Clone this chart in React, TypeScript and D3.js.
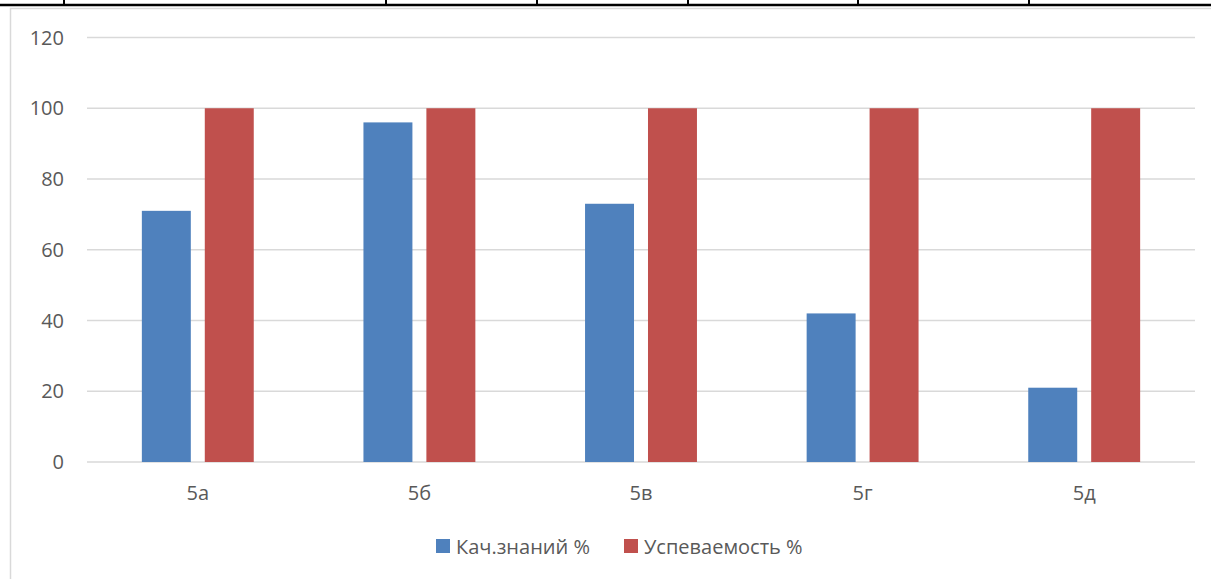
import { useEffect, useRef } from 'react';
import * as d3 from 'd3';

const categories = ['5а', '5б', '5в', '5г', '5д'];
const seriesNames = ['Кач.знаний %', 'Успеваемость %'];
const quality = [71, 96, 73, 42, 21];
const progress = [100, 100, 100, 100, 100];
const yTicks = [0, 20, 40, 60, 80, 100, 120];
const colors = ['#4f81bd', '#c0504d'];
const tableCols = [64, 386, 537, 688, 858, 1029];

export default function App() {
  const svgRef = useRef<SVGSVGElement>(null);

  useEffect(() => {
    if (!svgRef.current) return;
    const svg = d3.select(svgRef.current);
    svg.selectAll('*').remove();

    const width = 1211;
    const height = 579;
    const font = '"Open Sans", "Noto Sans", sans-serif';
    const fontSize = 20;
    const textColor = '#595959';

    // Table border remnants above the chart
    svg.append('line')
      .attr('x1', 0).attr('x2', width)
      .attr('y1', 5).attr('y2', 5)
      .attr('stroke', '#000').attr('stroke-width', 2.5);
    svg.selectAll('.tcol')
      .data(tableCols)
      .enter()
      .append('line')
      .attr('x1', d => d).attr('x2', d => d)
      .attr('y1', 0).attr('y2', 6)
      .attr('stroke', '#000').attr('stroke-width', 2);

    // Chart frame
    svg.append('rect')
      .attr('x', 10.5).attr('y', 8.5)
      .attr('width', width + 20).attr('height', height)
      .attr('fill', '#fff')
      .attr('stroke', '#d9d9d9').attr('stroke-width', 1.5);

    const plot = { left: 87, right: 1195, top: 37.5, bottom: 462 };

    const x0 = d3.scaleBand<string>()
      .domain(categories)
      .range([plot.left, plot.right])
      .paddingInner(0.495)
      .paddingOuter(0.2475);

    const x1 = d3.scaleBand<number>()
      .domain([0, 1])
      .range([0, x0.bandwidth()])
      .paddingInner(0.222)
      .paddingOuter(0);

    const y = d3.scaleLinear()
      .domain([0, 120])
      .range([plot.bottom, plot.top]);

    // Gridlines
    svg.selectAll('.grid')
      .data(yTicks)
      .enter()
      .append('line')
      .attr('x1', plot.left).attr('x2', plot.right)
      .attr('y1', d => y(d)).attr('y2', d => y(d))
      .attr('stroke', '#d9d9d9').attr('stroke-width', 1.3);

    // Y tick labels
    svg.selectAll('.ytick')
      .data(yTicks)
      .enter()
      .append('text')
      .attr('x', 64)
      .attr('y', d => y(d))
      .attr('dy', '0.36em')
      .attr('text-anchor', 'end')
      .attr('font-family', font)
      .attr('font-size', fontSize)
      .attr('fill', textColor)
      .text(d => d);

    // Bars
    const series = [quality, progress];
    series.forEach((vals, si) => {
      svg.selectAll(`.bar-${si}`)
        .data(vals)
        .enter()
        .append('rect')
        .attr('x', (_, i) => (x0(categories[i]) ?? 0) + (x1(si) ?? 0))
        .attr('y', d => y(d))
        .attr('width', x1.bandwidth())
        .attr('height', d => y(0) - y(d))
        .attr('fill', colors[si]);
    });

    // Category labels
    svg.selectAll('.xlabel')
      .data(categories)
      .enter()
      .append('text')
      .attr('x', d => (x0(d) ?? 0) + x0.bandwidth() / 2)
      .attr('y', 500)
      .attr('text-anchor', 'middle')
      .attr('font-family', font)
      .attr('font-size', fontSize)
      .attr('fill', textColor)
      .text(d => d);

    // Legend
    const legendX = [436, 624];
    const legend = svg.append('g');
    seriesNames.forEach((name, i) => {
      legend.append('rect')
        .attr('x', legendX[i]).attr('y', 539)
        .attr('width', 14).attr('height', 14)
        .attr('fill', colors[i]);
      legend.append('text')
        .attr('x', legendX[i] + 20)
        .attr('y', 554)
        .attr('font-family', font)
        .attr('font-size', fontSize)
        .attr('fill', textColor)
        .text(name);
    });
  }, []);

  return (
    <svg
      ref={svgRef}
      width={1211}
      height={579}
      style={{ position: 'absolute', left: 0, top: 0, background: '#fff' }}
    />
  );
}
